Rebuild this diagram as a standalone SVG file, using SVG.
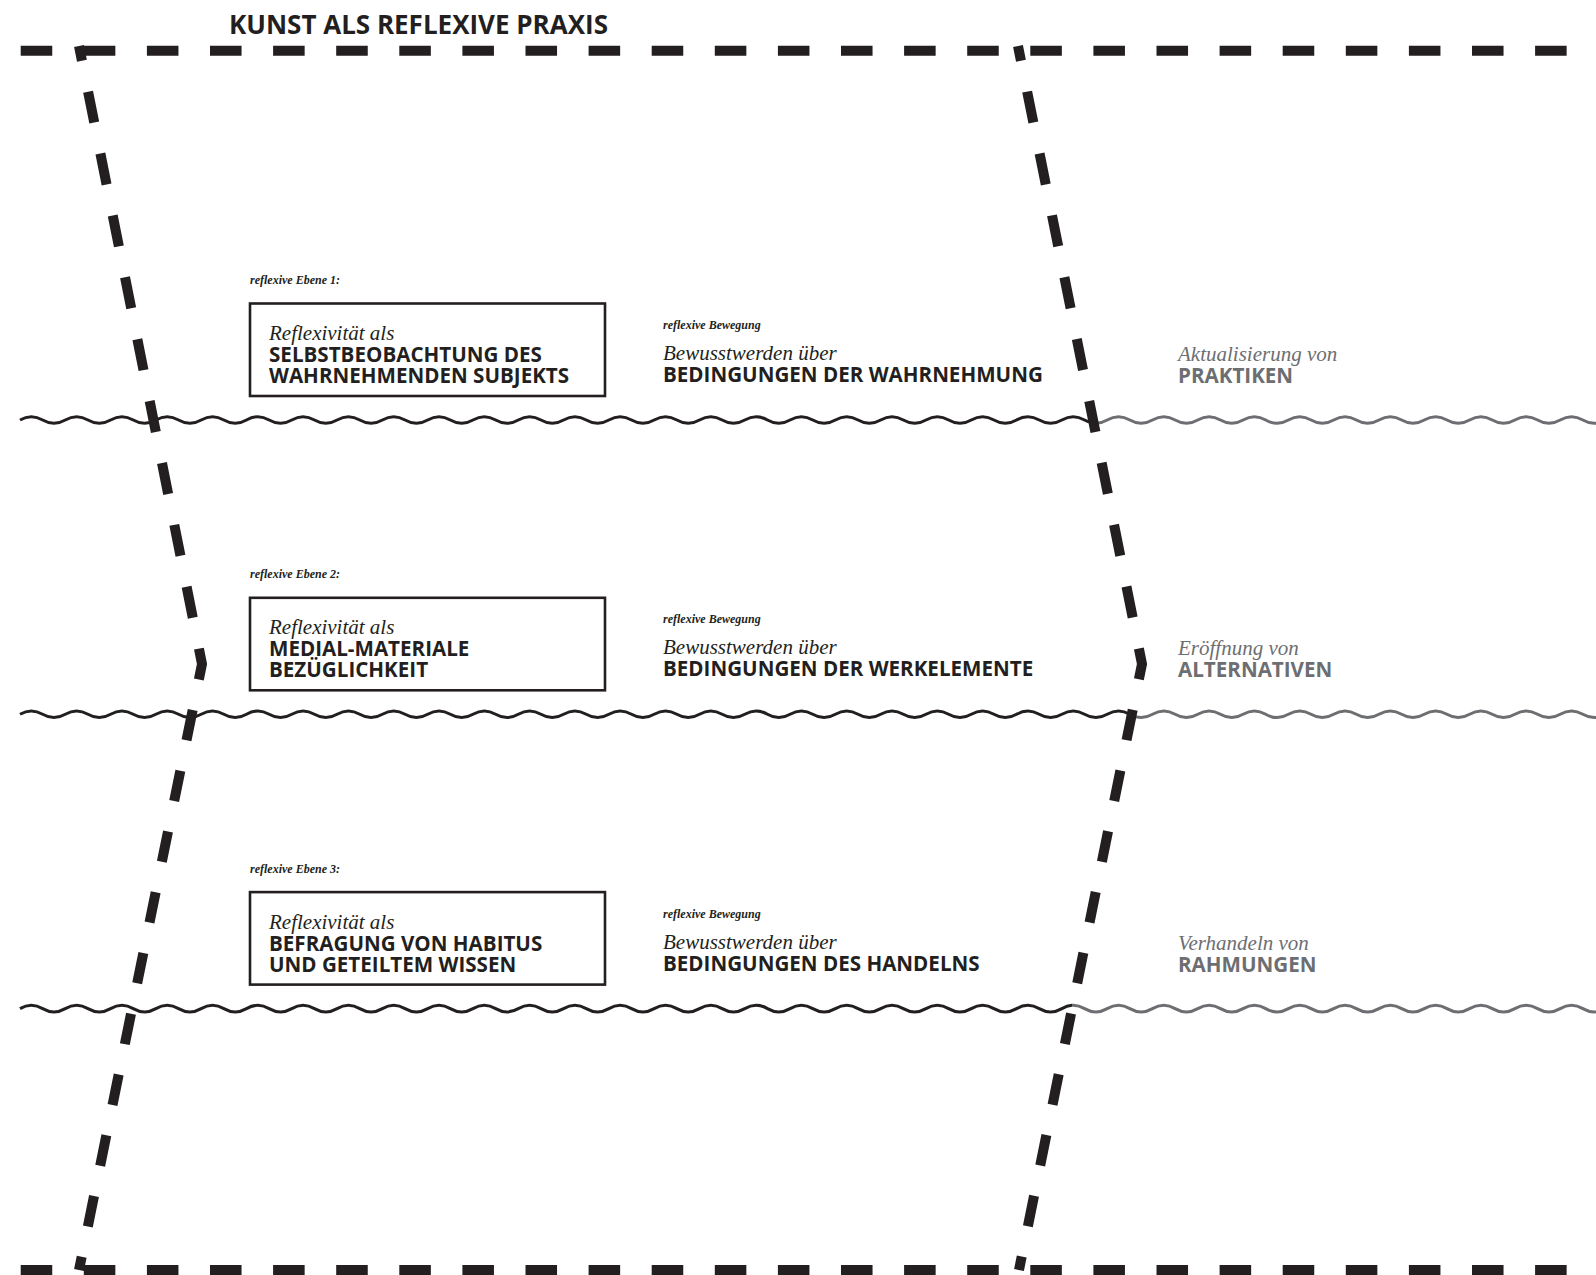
<svg xmlns="http://www.w3.org/2000/svg" xmlns:xlink="http://www.w3.org/1999/xlink" width="1596" height="1275" viewBox="0 0 1596 1275">
<style>
.title{font-family:'Open Sans','Liberation Sans',sans-serif;font-weight:700;font-size:26px;fill:#231f20}
.caps{font-family:'Open Sans','Liberation Sans',sans-serif;font-weight:700;font-size:20.6px;fill:#231f20}
.ital{font-family:'Liberation Serif',serif;font-style:italic;font-size:21px;fill:#231f20}
.small{font-family:'Liberation Serif',serif;font-style:italic;font-weight:700;font-size:12px;fill:#231f20}
.grey{fill:#6d6e71}
.box{fill:none;stroke:#231f20;stroke-width:2.6}
.dash{fill:none;stroke:#231f20;stroke-width:10;stroke-dasharray:31.55 31.55;stroke-linecap:butt}
.slant{fill:none;stroke:#231f20;stroke-width:10;stroke-dasharray:15 31.55 31.55 31.55 31.55 31.55 31.55 31.55 31.55 31.55 31.55 31.55 31.55 31.55 31.55 31.55 31.55 31.55 31.55 31.55 31.55 31 31 31 31 31 31 31 31 31 31 31 31 31 31 31 31 31 31 31 31 20 40;stroke-linejoin:miter;stroke-miterlimit:10;stroke-linecap:butt}
.wb{fill:none;stroke:#231f20;stroke-width:3}
.wg{fill:none;stroke:#6d6e71;stroke-width:3}
</style>
<defs>
<path id="wave" d="M20,0 c7.55,-4.4 15.1,-4.4 22.65,0 s15.1,4.4 22.65,0 s15.1,-4.4 22.65,0 s15.1,4.4 22.65,0 s15.1,-4.4 22.65,0 s15.1,4.4 22.65,0 s15.1,-4.4 22.65,0 s15.1,4.4 22.65,0 s15.1,-4.4 22.65,0 s15.1,4.4 22.65,0 s15.1,-4.4 22.65,0 s15.1,4.4 22.65,0 s15.1,-4.4 22.65,0 s15.1,4.4 22.65,0 s15.1,-4.4 22.65,0 s15.1,4.4 22.65,0 s15.1,-4.4 22.65,0 s15.1,4.4 22.65,0 s15.1,-4.4 22.65,0 s15.1,4.4 22.65,0 s15.1,-4.4 22.65,0 s15.1,4.4 22.65,0 s15.1,-4.4 22.65,0 s15.1,4.4 22.65,0 s15.1,-4.4 22.65,0 s15.1,4.4 22.65,0 s15.1,-4.4 22.65,0 s15.1,4.4 22.65,0 s15.1,-4.4 22.65,0 s15.1,4.4 22.65,0 s15.1,-4.4 22.65,0 s15.1,4.4 22.65,0 s15.1,-4.4 22.65,0 s15.1,4.4 22.65,0 s15.1,-4.4 22.65,0 s15.1,4.4 22.65,0 s15.1,-4.4 22.65,0 s15.1,4.4 22.65,0 s15.1,-4.4 22.65,0 s15.1,4.4 22.65,0 s15.1,-4.4 22.65,0 s15.1,4.4 22.65,0 s15.1,-4.4 22.65,0 s15.1,4.4 22.65,0 s15.1,-4.4 22.65,0 s15.1,4.4 22.65,0 s15.1,-4.4 22.65,0 s15.1,4.4 22.65,0 s15.1,-4.4 22.65,0 s15.1,4.4 22.65,0 s15.1,-4.4 22.65,0 s15.1,4.4 22.65,0 s15.1,-4.4 22.65,0 s15.1,4.4 22.65,0 s15.1,-4.4 22.65,0 s15.1,4.4 22.65,0 s15.1,-4.4 22.65,0 s15.1,4.4 22.65,0 s15.1,-4.4 22.65,0 s15.1,4.4 22.65,0 s15.1,-4.4 22.65,0 s15.1,4.4 22.65,0 s15.1,-4.4 22.65,0 s15.1,4.4 22.65,0 s15.1,-4.4 22.65,0 s15.1,4.4 22.65,0 s15.1,-4.4 22.65,0 s15.1,4.4 22.65,0 s15.1,-4.4 22.65,0 s15.1,4.4 22.65,0 s15.1,-4.4 22.65,0 s15.1,4.4 22.65,0 s15.1,-4.4 22.65,0 s15.1,4.4 22.65,0 s15.1,-4.4 22.65,0 s15.1,4.4 22.65,0 s15.1,-4.4 22.65,0"/>
<clipPath id="cb1"><rect x="0" y="400" width="1093" height="40"/></clipPath>
<clipPath id="cg1"><rect x="1093" y="400" width="510" height="40"/></clipPath>
<clipPath id="cb2"><rect x="0" y="694" width="1132" height="40"/></clipPath>
<clipPath id="cg2"><rect x="1132" y="694" width="470" height="40"/></clipPath>
<clipPath id="cb3"><rect x="0" y="989" width="1072" height="40"/></clipPath>
<clipPath id="cg3"><rect x="1072" y="989" width="530" height="40"/></clipPath>
</defs>
<rect x="0" y="0" width="1596" height="1275" fill="#ffffff"/>
<text class="title" x="229" y="34">KUNST ALS REFLEXIVE PRAXIS</text>

<g id="waves">
<g clip-path="url(#cb1)"><use xlink:href="#wave" class="wb" transform="translate(0,420)"/></g>
<g clip-path="url(#cg1)"><use xlink:href="#wave" class="wg" transform="translate(0,420)"/></g>
<g clip-path="url(#cb2)"><use xlink:href="#wave" class="wb" transform="translate(0,714.3)"/></g>
<g clip-path="url(#cg2)"><use xlink:href="#wave" class="wg" transform="translate(0,714.3)"/></g>
<g clip-path="url(#cb3)"><use xlink:href="#wave" class="wb" transform="translate(0,1008.6)"/></g>
<g clip-path="url(#cg3)"><use xlink:href="#wave" class="wg" transform="translate(0,1008.6)"/></g>
</g>

<g id="level1">
<g id="ebene1">
<text class="small" x="250" y="284">reflexive Ebene 1:</text>
<rect class="box" x="250" y="303.5" width="355" height="92.5"/>
<text class="ital" x="269" y="340">Reflexivität als</text>
<text class="caps" x="269" y="362">SELBSTBEOBACHTUNG DES</text>
<text class="caps" x="269" y="383">WAHRNEHMENDEN SUBJEKTS</text>
</g>
<g id="bewegung1">
<text class="small" x="663" y="329">reflexive Bewegung</text>
<text class="ital" x="663" y="360">Bewusstwerden über</text>
<text class="caps" x="663" y="382">BEDINGUNGEN DER WAHRNEHMUNG</text>
</g>
<g id="folge1">
<text class="ital grey" x="1178" y="361">Aktualisierung von</text>
<text class="caps grey" x="1178" y="383">PRAKTIKEN</text>
</g>
</g>

<g id="level2" transform="translate(0,294.3)">
<g id="ebene2">
<text class="small" x="250" y="284">reflexive Ebene 2:</text>
<rect class="box" x="250" y="303.5" width="355" height="92.5"/>
<text class="ital" x="269" y="340">Reflexivität als</text>
<text class="caps" x="269" y="362">MEDIAL-MATERIALE</text>
<text class="caps" x="269" y="383">BEZÜGLICHKEIT</text>
</g>
<g id="bewegung2">
<text class="small" x="663" y="329">reflexive Bewegung</text>
<text class="ital" x="663" y="360">Bewusstwerden über</text>
<text class="caps" x="663" y="382">BEDINGUNGEN DER WERKELEMENTE</text>
</g>
<g id="folge2">
<text class="ital grey" x="1178" y="361">Eröffnung von</text>
<text class="caps grey" x="1178" y="383">ALTERNATIVEN</text>
</g>
</g>

<g id="level3" transform="translate(0,588.6)">
<g id="ebene3">
<text class="small" x="250" y="284">reflexive Ebene 3:</text>
<rect class="box" x="250" y="303.5" width="355" height="92.5"/>
<text class="ital" x="269" y="340">Reflexivität als</text>
<text class="caps" x="269" y="362">BEFRAGUNG VON HABITUS</text>
<text class="caps" x="269" y="383">UND GETEILTEM WISSEN</text>
</g>
<g id="bewegung3">
<text class="small" x="663" y="329">reflexive Bewegung</text>
<text class="ital" x="663" y="360">Bewusstwerden über</text>
<text class="caps" x="663" y="382">BEDINGUNGEN DES HANDELNS</text>
</g>
<g id="folge3">
<text class="ital grey" x="1178" y="361">Verhandeln von</text>
<text class="caps grey" x="1178" y="383">RAHMUNGEN</text>
</g>
</g>

<g id="connectors">
<line class="dash" x1="20.7" y1="50.7" x2="1596" y2="50.7"/>
<line class="dash" x1="20.7" y1="1270" x2="1596" y2="1270"/>
<path class="slant" d="M79,46 L202,664 L79,1270"/>
<path class="slant" d="M1018,46 L1142,664 L1019,1270"/>
</g>
</svg>
